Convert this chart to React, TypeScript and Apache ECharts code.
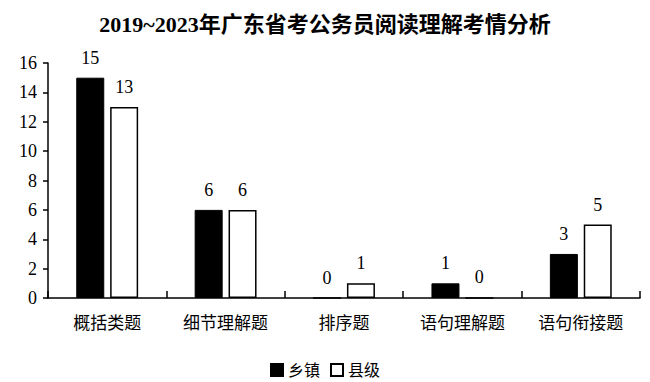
import React, { useEffect, useRef } from "react";
import * as echarts from "echarts";

const title = "2019~2023年广东省考公务员阅读理解考情分析";
const categories = ["概括类题", "细节理解题", "排序题", "语句理解题", "语句衔接题"];
const seriesNames = ["乡镇", "县级"];
const townValues = [15, 6, 0, 1, 3];
const countyValues = [13, 6, 1, 0, 5];

const FONT = "'Liberation Serif', 'Noto Sans CJK SC', serif";

export default function App() {
  const ref = useRef<HTMLDivElement>(null);
  useEffect(() => {
    if (!ref.current) return;
    const chart = echarts.init(ref.current, undefined, { renderer: "svg" });
    chart.setOption({
      animation: false,
      backgroundColor: "#ffffff",
      title: {
        text: title,
        left: "center",
        top: 8,
        textStyle: { fontFamily: FONT, fontSize: 22, fontWeight: "bold", color: "#000" },
      },
      legend: {
        data: [
          { name: seriesNames[0], icon: "rect" },
          { name: seriesNames[1], icon: "rect" },
        ],
        left: "center",
        top: 357,
        itemWidth: 12,
        itemHeight: 12,
        itemGap: 10,
        textStyle: { fontFamily: FONT, fontSize: 16, color: "#000" },
      },
      grid: { left: 48, right: 10, top: 63, bottom: 84, containLabel: false },
      xAxis: {
        type: "category",
        data: categories,
        axisLine: { show: true, lineStyle: { color: "#000", width: 1.5 } },
        axisTick: { show: true, inside: true, length: 7, lineStyle: { color: "#000", width: 1.5 } },
        axisLabel: { fontFamily: FONT, fontSize: 17, color: "#000", margin: 17 },
      },
      yAxis: {
        type: "value",
        min: 0,
        max: 16,
        interval: 2,
        axisLine: { show: true, lineStyle: { color: "#000", width: 1.5 } },
        axisTick: { show: true, length: 5, lineStyle: { color: "#000", width: 1.5 } },
        splitLine: { show: false },
        axisLabel: { fontFamily: FONT, fontSize: 18, color: "#000", margin: 11 },
      },
      series: [
        {
          name: seriesNames[0],
          type: "bar",
          data: townValues,
          barWidth: 28,
          barGap: "21%",
          itemStyle: { color: "#000", borderColor: "#000", borderWidth: 1 },
          label: { show: true, position: "top", distance: 11, fontFamily: FONT, fontSize: 18, color: "#000" },
        },
        {
          name: seriesNames[1],
          type: "bar",
          data: countyValues,
          barWidth: 28,
          barGap: "21%",
          itemStyle: { color: "#fff", borderColor: "#000", borderWidth: 1.5 },
          label: { show: true, position: "top", distance: 11, fontFamily: FONT, fontSize: 18, color: "#000" },
        },
      ],
    });
    return () => chart.dispose();
  }, []);
  return (
    <div
      ref={ref}
      style={{ position: "absolute", left: 0, top: 0, width: 650, height: 382 }}
    />
  );
}
